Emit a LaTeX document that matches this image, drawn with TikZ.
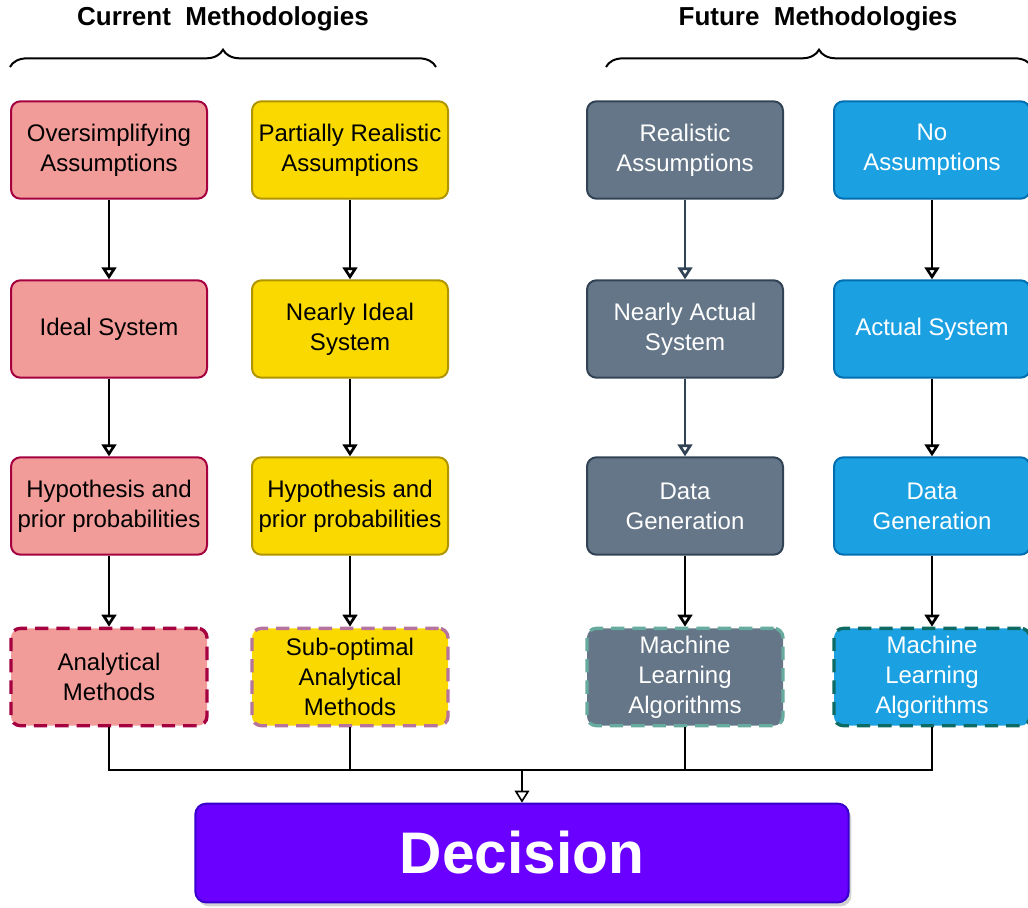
\documentclass[tikz,border=0pt]{standalone}
\usepackage{fontspec}
\setmainfont{Liberation Sans}
\usetikzlibrary{arrows.meta,decorations.pathreplacing,shadows}

\definecolor{redfill}{HTML}{F19C99}
\definecolor{redline}{HTML}{A50040}
\definecolor{yelfill}{HTML}{FAD900}
\definecolor{yelline}{HTML}{B09500}
\definecolor{pinkline}{HTML}{B5739D}
\definecolor{greyfill}{HTML}{647687}
\definecolor{greyline}{HTML}{314354}
\definecolor{tealline}{HTML}{67AB9F}
\definecolor{bluefill}{HTML}{1BA1E2}
\definecolor{blueline}{HTML}{006EAF}
\definecolor{darkteal}{HTML}{0E6B63}
\definecolor{violetfill}{HTML}{6A00FF}
\definecolor{violetline}{HTML}{3700CC}

\tikzset{
  box/.style={draw, rounded corners=7pt, line width=1.5pt, minimum width=147pt,
    minimum height=73pt, align=center, inner sep=2pt,
    font=\fontsize{18}{22.5}\selectfont},
  dbox/.style={box, line width=2.5pt, dash pattern=on 10pt off 6pt},
  redbox/.style={fill=redfill, draw=redline},
  yelbox/.style={fill=yelfill, draw=yelline},
  greybox/.style={fill=greyfill, draw=greyline, text=white},
  bluebox/.style={fill=bluefill, draw=blueline, text=white},
  arr/.style={-{Triangle[open,length=9pt,width=11pt]}, line width=2pt},
  title/.style={font=\bfseries\fontsize{19.5}{22}\selectfont},
  curly/.style={decorate, decoration={brace, amplitude=13pt}, line width=1.5pt},
}

\begin{document}
\begin{tikzpicture}[x=0.75pt, y=-0.75pt]
  \useasboundingbox (0,0) rectangle (1028,907);

  % titoli e graffe
  \node[title] (cur) at (223,19) {Current\ \ Methodologies};
  \node[title] (fut) at (818,19) {Future\ \ Methodologies};
  \draw[curly] (10,67) -- (436,67);
  \draw[curly] (606,67) -- (1032,67);

  % colonna 1
  \node[box, redbox] (a1) at (109,150) {Oversimplifying\\Assumptions};
  \node[box, redbox] (a2) at (109,329) {Ideal System};
  \node[box, redbox] (a3) at (109,506) {Hypothesis and\\prior probabilities};
  \node[dbox, redbox] (a4) at (109,677) {Analytical\\Methods};

  % colonna 2
  \node[box, yelbox] (b1) at (350,150) {Partially Realistic\\Assumptions};
  \node[box, yelbox] (b2) at (350,329) {Nearly Ideal\\System};
  \node[box, yelbox] (b3) at (350,506) {Hypothesis and\\prior probabilities};
  \node[dbox, yelbox, draw=pinkline] (b4) at (350,677) {Sub-optimal\\Analytical\\Methods};

  % colonna 3
  \node[box, greybox] (c1) at (685,150) {Realistic\\Assumptions};
  \node[box, greybox] (c2) at (685,329) {Nearly Actual\\System};
  \node[box, greybox] (c3) at (685,506) {Data\\Generation};
  \node[dbox, greybox, draw=tealline] (c4) at (685,677) {Machine\\Learning\\Algorithms};

  % colonna 4
  \node[box, bluebox] (d1) at (932,150) {No\\Assumptions};
  \node[box, bluebox] (d2) at (932,329) {Actual System};
  \node[box, bluebox] (d3) at (932,506) {Data\\Generation};
  \node[dbox, bluebox, draw=darkteal] (d4) at (932,677) {Machine\\Learning\\Algorithms};

  % frecce
  \foreach \c in {a,b,d} {
    \draw[arr] (\c1) -- (\c2);
    \draw[arr] (\c2) -- (\c3);
    \draw[arr] (\c3) -- (\c4);
  }
  \draw[arr, greyline] (c1) -- (c2);
  \draw[arr, greyline] (c2) -- (c3);
  \draw[arr] (c3) -- (c4);

  % decisione
  \node[draw=violetline, fill=violetfill, text=white, rounded corners=8pt,
    line width=1.5pt, minimum width=490pt, minimum height=74pt,
    drop shadow={shadow xshift=2pt, shadow yshift=-3pt, fill=black!35},
    font=\bfseries\fontsize{44}{50}\selectfont] (dec) at (522,853) {Decision};

  \coordinate (merge) at (522,770);
  \foreach \c in {a4,b4,c4,d4}
    \draw[line width=1.2pt] (\c.south) |- (merge);
  \draw[arr, line width=1.2pt] (merge) -- (dec.north);
\end{tikzpicture}
\end{document}
